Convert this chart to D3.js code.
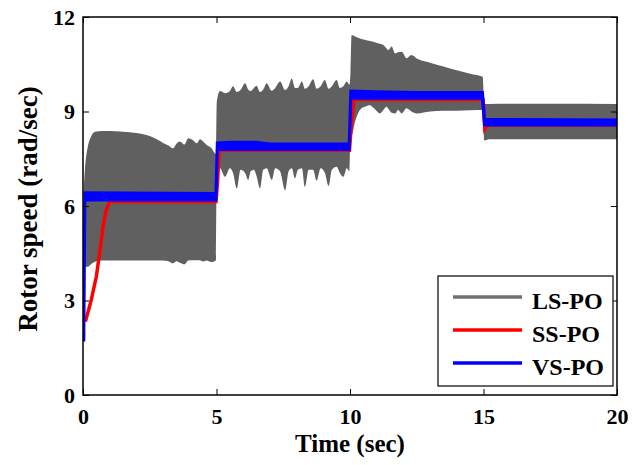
<!DOCTYPE html>
<html>
<head>
<meta charset="utf-8">
<script src="https://d3js.org/d3.v7.min.js"></script>
<style>
  body { margin: 0; background: #fff; }
  svg text { font-family: "Liberation Serif", "Times New Roman", serif; font-weight: bold; fill: #000; }
</style>
</head>
<body>
<svg id="chart" width="640" height="465"></svg>
<script>
// LS-PO oscillates fast, so it is kept as its upper / lower envelope
const lsTime = [0.03,0.08,0.18,0.3,0.45,0.7,1.0,1.5,2.0,2.5,2.8,3.0,3.2,3.37,3.5,3.63,3.8,3.94,4.1,4.26,4.38,4.5,4.63,4.8,4.98,
  5.01,5.13,5.32,5.5,5.62,5.76,5.9,6.07,6.19,6.28,6.4,6.5,6.63,6.75,6.88,7.07,7.2,7.38,7.57,7.7,7.82,7.94,8.05,8.2,8.31,8.45,8.62,8.75,8.9,9.06,9.2,9.32,9.5,9.62,9.75,9.88,9.98,
  10.02,10.06,10.19,10.37,10.55,10.75,10.9,11.12,11.25,11.37,11.44,11.56,11.69,11.8,11.94,12.12,12.3,12.5,13.0,13.5,14.0,14.5,14.97,
  15.03,15.2,17.5,20.0];
const lsUpper = [6.6,7.25,7.88,8.2,8.36,8.38,8.38,8.36,8.32,8.22,8.1,8.0,7.92,7.83,7.98,8.05,7.95,8.15,8.1,7.99,8.12,8.05,7.94,7.85,7.65,
  9.3,9.65,9.58,9.65,9.8,9.62,9.68,9.9,9.7,9.65,9.75,9.82,9.62,9.7,9.9,9.66,9.75,9.95,9.68,9.8,10.05,9.75,9.75,9.95,9.72,9.8,10.02,9.72,9.8,10.0,9.72,9.8,10.0,9.75,9.8,9.95,9.85,
  10.3,11.43,11.38,11.32,11.28,11.24,11.21,11.15,11.11,11.0,10.95,11.06,10.84,10.88,10.9,10.69,10.79,10.68,10.55,10.43,10.31,10.2,10.1,
  9.24,9.24,9.25,9.24];
const lsLower = [4.1,4.07,4.07,4.15,4.23,4.27,4.27,4.27,4.27,4.27,4.27,4.27,4.25,4.18,4.25,4.2,4.15,4.27,4.28,4.28,4.28,4.24,4.27,4.22,4.28,
  6.95,7.2,6.93,7.2,7.05,6.56,7.15,7.05,6.83,7.1,7.15,6.95,6.56,7.15,7.2,6.83,7.2,7.1,6.5,7.1,7.2,6.88,7.15,7.2,6.61,7.15,7.15,6.8,7.2,7.05,6.64,7.15,7.25,7.05,6.93,7.2,7.1,
  8.3,8.25,8.68,9.05,9.15,9.2,9.1,8.94,9.05,9.15,9.08,8.96,8.94,9.05,8.94,9.1,9.0,8.94,9.0,9.02,9.02,9.04,9.05,
  8.08,8.12,8.12,8.12];

// SS-PO
const ssTime  = [0.09,0.31,0.5,0.62,0.75,0.87,1.0,4.98,5.04,5.1,9.98,10.05,10.15,14.98,15.05,15.15,20.0];
const ssSpeed = [2.33,3.02,3.76,4.5,5.34,5.87,6.14,6.14,6.77,7.77,7.77,8.57,9.38,9.38,8.45,8.57,8.57];

// VS-PO, with its small ripple band
const vsTime = [0.03,0.07,4.98,5.03,5.5,6.5,7.0,9.97,10.03,11.0,12.5,14.96,15.04,20.0];
const vsHigh = [1.7,6.42,6.4,8.0,8.02,8.02,7.97,7.97,9.65,9.63,9.6,9.6,8.75,8.73];
const vsLow  = [1.7,6.19,6.19,7.79,7.79,7.79,7.79,7.79,9.42,9.42,9.42,9.42,8.57,8.57];

const xTicks = [0, 5, 10, 15, 20];
const yTicks = [0, 3, 6, 9, 12];
const seriesNames = ["LS-PO", "SS-PO", "VS-PO"];
const colors = ["#606060", "#ff0000", "#0000ff"];

const svg = d3.select("#chart");
const margin = {top: 17, right: 23, bottom: 70, left: 83};
const width = 640 - margin.left - margin.right;
const height = 465 - margin.top - margin.bottom;
const g = svg.append("g").attr("transform", `translate(${margin.left},${margin.top})`);

const x = d3.scaleLinear().domain([0, 20]).range([0, width]);
const y = d3.scaleLinear().domain([0, 12]).range([height, 0]);

svg.append("clipPath").attr("id", "plot").append("rect")
  .attr("width", width).attr("height", height);

const plot = g.append("g").attr("clip-path", "url(#plot)");

// LS-PO band
const lsArea = d3.area()
  .x((d, i) => x(lsTime[i]))
  .y0((d, i) => y(lsLower[i]))
  .y1((d, i) => y(lsUpper[i]))
  .curve(d3.curveMonotoneX);
plot.append("path").datum(lsTime).attr("d", lsArea).attr("fill", colors[0]);

// SS-PO line
const ssLine = d3.line().x((d, i) => x(ssTime[i])).y((d, i) => y(ssSpeed[i]));
plot.append("path").datum(ssTime).attr("d", ssLine)
  .attr("fill", "none").attr("stroke", colors[1]).attr("stroke-width", 3.5);

// VS-PO band
const vsArea = d3.area()
  .x((d, i) => x(vsTime[i]))
  .y0((d, i) => y(vsLow[i]))
  .y1((d, i) => y(vsHigh[i]));
plot.append("path").datum(vsTime).attr("d", vsArea)
  .attr("fill", colors[2]).attr("stroke", colors[2]).attr("stroke-width", 3);

// axes, ticks inside like matlab
const xAxis = d3.axisBottom(x).tickValues(xTicks).tickSizeInner(-6).tickSizeOuter(0).tickPadding(13);
const yAxis = d3.axisLeft(y).tickValues(yTicks).tickSizeInner(-6).tickSizeOuter(0).tickPadding(8);

g.append("g").attr("transform", `translate(0,${height})`).call(xAxis)
  .call(a => a.select(".domain").remove());
g.append("g").call(yAxis).call(a => a.select(".domain").remove());
g.append("g").call(d3.axisTop(x).tickValues(xTicks).tickSizeInner(-6).tickSizeOuter(0).tickFormat(""))
  .call(a => a.select(".domain").remove());
g.append("g").attr("transform", `translate(${width},0)`)
  .call(d3.axisRight(y).tickValues(yTicks).tickSizeInner(-6).tickSizeOuter(0).tickFormat(""))
  .call(a => a.select(".domain").remove());

g.selectAll(".tick line").attr("stroke", "#000");
g.selectAll(".tick text").style("font-size", "22px");

g.append("rect").attr("width", width).attr("height", height)
  .attr("fill", "none").attr("stroke", "#000").attr("stroke-width", 1.5);

// axis titles
svg.append("text").attr("x", margin.left + width / 2).attr("y", 452)
  .attr("text-anchor", "middle").style("font-size", "25px").text("Time (sec)");
svg.append("text").attr("transform", "translate(37,209) rotate(-90)")
  .attr("text-anchor", "middle").style("font-size", "27px").text("Rotor speed (rad/sec)");

// legend
const leg = svg.append("g").attr("transform", "translate(438,276)");
leg.append("rect").attr("width", 175).attr("height", 110)
  .attr("fill", "#fff").attr("stroke", "#000").attr("stroke-width", 1.2);
seriesNames.forEach((name, i) => {
  const ly = 21 + i * 33;
  leg.append("line").attr("x1", 15).attr("x2", 84).attr("y1", ly).attr("y2", ly)
    .attr("stroke", i === 0 ? "#707070" : colors[i]).attr("stroke-width", 3.5);
  leg.append("text").attr("x", 94).attr("y", ly + 12).style("font-size", "24px").text(name);
});
</script>
</body>
</html>
